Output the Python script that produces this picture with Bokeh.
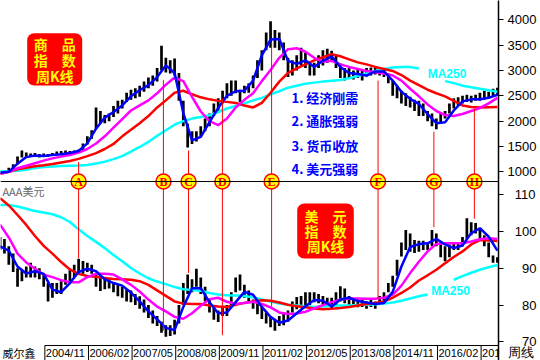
import math
from bokeh.plotting import figure
from bokeh.models import Range1d, FixedTicker, Span, Label, BoxAnnotation
from bokeh.embed import file_html
from bokeh.resources import INLINE
from bokeh.core.properties import value

NaN = float("nan")

# ---------------- data ----------------
START = 2003.55          # first sample (decimal year)
BAR_STEP = 0.125         # price samples every 1.5 months
MA_STEP = 0.25           # moving-average samples every quarter

# Commodity index (weekly K-line), high / low envelope
cmd_high = [1020, 1030, 1080, 1150, 1300, 1420, 1380, 1360, 1370, 1350,
            1360, 1350, 1370, 1400, 1410, 1420, 1410, 1420, 1440, 1560,
            1700, 1820, 2270, 2200, 2120, 2150, 2300, 2400, 2420, 2560,
            2620, 2650, 2700, 2780, 2860, 2900, 3050, 3490, 3250, 3200,
            3235, 2950, 2400, 1950, 1800, 1800, 1900, 2050, 2150, 2350,
            2450, 2600, 2750, 2800, 2800, 2620, 2700, 2750, 2900, 3200,
            3400, 3750, 3970, 3800, 3750, 3550, 3250, 3200, 3300, 3450,
            3350, 3150, 3150, 3300, 3400, 3430, 3390, 3300, 3140, 3050,
            3050, 3000, 3020, 3000, 3050, 3060, 3080, 3060, 3040, 2940,
            2800, 2700, 2600, 2550, 2480, 2420, 2400, 2350, 2200, 2150,
            2050, 2150, 2200, 2350, 2450, 2470, 2500, 2520, 2500, 2520,
            2560, 2600, 2580, 2640, 2660]
cmd_low = [980, 990, 1000, 1050, 1150, 1280, 1300, 1290, 1300, 1280,
           1290, 1300, 1310, 1340, 1350, 1360, 1360, 1370, 1380, 1420,
           1540, 1650, 1850, 1950, 1960, 2000, 2080, 2150, 2250, 2380,
           2420, 2450, 2480, 2580, 2650, 2700, 2780, 3000, 2960, 2940,
           2900, 2400, 1900, 1480, 1550, 1600, 1700, 1800, 1900, 2100,
           2200, 2350, 2450, 2500, 2550, 2380, 2550, 2560, 2650, 2850,
           3000, 3400, 3450, 3450, 3400, 3200, 2870, 2900, 3000, 3100,
           3050, 2900, 2900, 3050, 3100, 3150, 3180, 3050, 2850, 2800,
           2850, 2820, 2850, 2800, 2880, 2900, 2920, 2900, 2870, 2750,
           2500, 2450, 2350, 2300, 2270, 2200, 2100, 2100, 2000, 1900,
           1840, 1950, 2050, 2150, 2250, 2300, 2350, 2380, 2370, 2400,
           2400, 2420, 2440, 2480, 2500]
cmd_ma_blue = [980, 1000, 1160, 1290, 1320, 1310, 1330, 1345, 1370, 1410,
               1560, 1850, 2070, 2180, 2310, 2490, 2610, 2710, 2870, 3100,
               2950, 2160, 1620, 1690, 1980, 2260, 2500, 2590, 2600, 2800,
               3300, 3610, 3620, 3190, 3130, 3200, 3070, 3190, 3280, 3070,
               2950, 2930, 2900, 2980, 2980, 2800, 2580, 2440, 2340, 2140,
               1960, 1980, 2210, 2390, 2430, 2430, 2460, 2520]
cmd_ma_magenta = [960, 1000, 1070, 1120, 1170, 1220, 1265, 1300, 1330, 1380,
                  1450, 1560, 1700, 1870, 2040, 2210, 2310, 2410, 2550, 2720,
                  2860, 2790, 2480, 2190, 2000, 1920, 2050, 2270, 2420, 2550,
                  2790, 3010, 3250, 3420, 3440, 3370, 3250, 3170, 3190, 3120,
                  3070, 3030, 2990, 2965, 2940, 2900, 2800, 2640, 2490, 2330,
                  2200, 2120, 2100, 2140, 2200, 2260, 2350, 2460]
cmd_ma_red = [960, 1000, 1050, 1080, 1110, 1130, 1155, 1185, 1215, 1255,
              1310, 1370, 1450, 1550, 1700, 1830, 1960, 2100, 2270, 2410,
              2560, 2600, 2530, 2470, 2430, 2400, 2380, 2360, 2310, 2270,
              2360, 2560, 2780, 2950, 3040, 3120, 3200, 3260, 3320, 3280,
              3220, 3160, 3120, 3070, 3030, 2990, 2910, 2800, 2710, 2620,
              2550, 2490, 2400, 2310, 2280, 2270, 2275, 2280]
cmd_ma250 = [1010, 1010, 1020, 1040, 1075, 1095, 1105, 1115, 1120, 1125,
             1135, 1165, 1200, 1250, 1310, 1400, 1490, 1590, 1710, 1820,
             1930, 2000, 2050, 2080, 2115, 2180, 2250, 2300, 2350, 2410,
             2460, 2530, 2590, 2660, 2700, 2740, 2760, 2780, 2795, 2810,
             2845, 2890, 2940, 2990, 3030, 3060, 3070, 3070, 3040, NaN,
             NaN, 2790, 2750, 2700, 2670, 2640, 2610, 2580]

# US dollar index (weekly K-line)
usd_high = [98.5, 98, 96, 94, 90, 89.5, 90.5, 91.5, 90.5, 90,
            88.5, 86, 86, 86, 86.5, 88.5, 89.5, 91, 92.6, 92,
            91.5, 91, 88.5, 87.5, 87, 87, 86, 85.6, 85, 84.3,
            84, 83, 82.4, 81.5, 80, 78.5, 77, 75.5, 74.5, 74.5,
            76, 80, 86, 88.3, 87, 89.9, 87.5, 85, 81.5, 79.7,
            78.5, 79.7, 80, 83.5, 87.5, 88.3, 85.5, 84, 81.5, 80.8,
            79.5, 78, 77, 76, 77, 78, 78.5, 81, 82.2, 82.5,
            83.5, 83.5, 83.5, 83, 82.5, 82, 82, 83.5, 85.1, 84.5,
            82.5, 81.6, 81.6, 81.5, 81, 81.6, 81, 82.5, 83.5, 86,
            88, 92.3, 97, 100.4, 99.5, 97.7, 97.5, 97.5, 97, 100.4,
            99.5, 97, 96, 96.5, 96.8, 97, 98.5, 103.6, 102.5, 102.3,
            101, 99, 97, 93.5, 93]
usd_low = [95, 94, 91, 89, 85, 86.5, 87.5, 87.5, 87.5, 87,
           85, 81, 82, 83, 83, 85.5, 86, 87.5, 88.5, 88.5,
           89, 88.5, 85, 83.8, 84.3, 84.5, 83.5, 82.4, 82, 81,
           80.8, 80, 79, 78, 76.5, 75, 74.3, 72.5, 71.4, 71.6,
           72, 75, 80, 83, 83.5, 85, 83, 81, 78, 76,
           75.4, 77, 77, 79.5, 83.5, 84, 82, 80.8, 79, 77.5,
           76.2, 75, 74, 73, 74.3, 74.5, 75.5, 78, 78.9, 79.5,
           80, 80, 80.8, 80.5, 80, 79.5, 79, 80, 81, 80.5,
           79.7, 79.5, 79.4, 79.5, 79, 79.5, 79, 80, 81, 83.5,
           85, 88, 93.2, 95, 94.5, 94.2, 94.5, 95, 95, 96,
           96, 93, 91.9, 93, 95, 95, 96, 98, 99, 99.5,
           97.5, 96, 93, 91.5, 91.5]
usd_ma_blue = [96.0, 94.8, 90.5, 88.6, 89.2, 88.5, 84.2, 83.5, 86.0, 89.0,
               89.9, 89.2, 87.0, 86.0, 85.3, 83.4, 81.0, 78.3, 76.1, 73.8,
               73.2, 79.5, 84.6, 84.6, 80.8, 77.8, 78.0, 80.8, 83.6, 82.8,
               79.5, 76.8, 75.2, 75.8, 77.8, 79.7, 81.4, 81.2, 79.6, 81.5,
               82.0, 81.1, 80.7, 80.3, 80.6, 83.6, 90.5, 95.8, 96.6, 96.8,
               98.0, 96.5, 95.5, 96.2, 99.6, 100.9, 98.6, 94.8]
usd_ma_magenta = [101.9, 98.4, 94.0, 91.6, 89.9, 88.3, 87.6, 86.8, 86.2, 86.2,
                  87.6, 88.5, 88.5, 88.3, 87.0, 85.5, 83.7, 81.5, 79.6, 78.3,
                  76.8, 76.3, 77.8, 79.8, 81.6, 82.0, 80.9, 80.3, 80.6, 80.9,
                  80.3, 79.4, 78.0, 77.6, 77.7, 78.2, 79.1, 80.0, 80.8, 81.5,
                  81.8, 81.8, 81.7, 81.7, 82.0, 82.8, 85.3, 88.7, 91.8, 94.6,
                  96.6, 96.8, 96.8, 96.8, 97.3, 97.9, 98.2, 98.0]
usd_ma_red = [109.1, 107.1, 104.5, 101.8, 98.8, 96.1, 94.0, 91.7, 89.7, 88.5,
              87.9, 87.7, 87.4, 87.1, 87.0, 86.9, 86.5, 85.5, 84.0, 82.5,
              81.0, 80.4, 80.3, 80.3, 79.9, 79.6, 79.5, 80.1, 80.6, 81.0,
              81.3, 81.2, 80.7, 80.1, 79.7, 79.4, 79.1, 78.9, 79.0, 79.2,
              79.5, 79.9, 80.3, 80.6, 81.0, 82.0, 83.3, 84.8, 86.7, 88.1,
              89.6, 91.4, 93.1, 94.6, 96.5, 97.7, 97.6, 97.4]
usd_ma250 = [107.2, 107.2, 106.8, 106.2, 105.6, 105.2, 104.7, 103.9, 102.6, 100.6,
             98.8, 97.2, 95.5, 93.6, 91.9, 90.1, 88.6, 87.3, 86.4, 85.7,
             84.9, 84.3, 84.1, 83.9, 83.3, 82.9, 82.7, 82.6, 82.5, 82.1,
             81.5, 81.0, 80.4, 80.1, 79.9, 79.7, 79.5, 79.6, 79.8, 79.9,
             79.9, 80.0, 80.1, 80.2, 80.4, 80.7, 81.2, 81.8, 82.4, 82.9,
             NaN, NaN, 86.9, 87.9, 88.8, 89.6, 90.3, 90.9]

date_ticks = [2004.833, 2006.083, 2007.333, 2008.583, 2009.833, 2011.083,
              2012.333, 2013.583, 2014.833, 2016.083, 2017.333]
date_labels = ["2004/11", "2006/02", "2007/05", "2008/08", "2009/11", "2011/02",
               "2012/05", "2013/08", "2014/11", "2016/02", "2017/05"]

event_names = ["A", "B", "C", "D", "E", "F", "G", "H"]
event_dates = [2005.80, 2008.23, 2008.95, 2009.92, 2011.33, 2014.38, 2015.98, 2017.14]
event_cmd = [1190, 2810, 1420, 2450, 3555, 2800, 1790, 2245]
event_usd = [92.8, 73.1, 88.7, 71.8, 79.6, 81.7, 101.2, 103.5]

cmd_ticks = [1000, 1500, 2000, 2500, 3000, 3500, 4000]
usd_ticks = [70, 80, 90, 100, 110]

themes = ["1. 经济刚需", "2. 通胀强弱", "3. 货币收放", "4. 美元强弱"]

# ---------------- layout constants ----------------
FRAME_W, FRAME_H = 498, 360      # plot area incl. the date row
PANEL_BOTTOM = 345               # bottom of the dollar panel (px)
AXIS_W = 42
PX_PER_YEAR = 34.9
X_LEFT = 2003.562
X_RIGHT = X_LEFT + FRAME_W / PX_PER_YEAR
CMD_TOP = 4381.0                 # commodity value at the top edge
CMD_PER_PX = 19.737
USD_REF, USD_REF_PX = 110.0, 194.3
USD_PER_PX = 0.272
SEP_PX = 181
CMD_BOTTOM = CMD_TOP - FRAME_H * CMD_PER_PX
USD_TOP = USD_REF + USD_REF_PX * USD_PER_PX
USD_BOTTOM = USD_TOP - FRAME_H * USD_PER_PX
SEP_CMD = CMD_TOP - SEP_PX * CMD_PER_PX
SEP_USD = USD_TOP - SEP_PX * USD_PER_PX


def xp(px):
    return X_LEFT + px / PX_PER_YEAR


def yp(py):
    return CMD_TOP - py * CMD_PER_PX


def usd_to_cmd(u):
    return CMD_TOP - (USD_TOP - u) / USD_PER_PX * CMD_PER_PX


CJK = "Noto Sans CJK SC"
RED, YELLOW, BLUE, MAGENTA, CYAN = "#FF0000", "#FFFF00", "#0000FF", "#FF00FF", "#00FFFF"

# ---------------- figure ----------------
p = figure(frame_width=FRAME_W, frame_height=FRAME_H,
           x_range=Range1d(X_LEFT, X_RIGHT), y_range=Range1d(CMD_BOTTOM, CMD_TOP),
           output_backend="svg", toolbar_location=None,
           x_axis_location=None, y_axis_location="right",
           min_border_left=0, min_border_top=0, min_border_bottom=0,
           min_border_right=AXIS_W,
           background_fill_color="white", border_fill_color="white")
p.outline_line_color = None
p.grid.visible = False
p.extra_y_ranges = {"usd": Range1d(USD_BOTTOM, USD_TOP)}

# shared right axis: commodity ticks (top), dollar ticks (bottom), row name (date row)
ax = p.yaxis[0]
tick_pos = list(cmd_ticks)
overrides = {t: str(t) for t in cmd_ticks}
for u in usd_ticks:
    pos = int(round(usd_to_cmd(u)))
    tick_pos.append(pos)
    overrides[pos] = "\u2007" * (4 - len(str(u))) + str(u)
row_pos = int(round(yp(352.5)))
overrides[row_pos] = "周线"
ax.ticker = FixedTicker(ticks=tick_pos + [row_pos], minor_ticks=tick_pos)
ax.major_label_overrides = overrides
ax.axis_line_color = "black"
ax.axis_line_width = 1.5
ax.major_tick_in = 0
ax.major_tick_out = 5
ax.major_tick_line_color = None
ax.minor_tick_in = 0
ax.minor_tick_out = 5
ax.minor_tick_line_color = "black"
ax.minor_tick_line_width = 1
ax.major_label_standoff = 4
ax.major_label_text_font = "Liberation Sans"
ax.major_label_text_font_size = "13px"
ax.major_label_text_color = "black"

x_bar = [START + i * BAR_STEP for i in range(len(cmd_high))]
x_ma = [START + i * MA_STEP for i in range(len(cmd_ma_blue))]

# price envelopes
p.vbar(x=x_bar, bottom=cmd_low, top=cmd_high, width=BAR_STEP * 0.62,
       fill_color="black", line_color=None)
p.vbar(x=x_bar, bottom=usd_low, top=usd_high, width=BAR_STEP * 0.62,
       fill_color="black", line_color=None, y_range_name="usd")

# moving averages
for ys, col in [(cmd_ma250, CYAN), (cmd_ma_red, RED), (cmd_ma_magenta, MAGENTA), (cmd_ma_blue, BLUE)]:
    p.line(x_ma, ys, line_color=col, line_width=2.5)
for ys, col in [(usd_ma250, CYAN), (usd_ma_red, RED), (usd_ma_magenta, MAGENTA), (usd_ma_blue, BLUE)]:
    p.line(x_ma, ys, line_color=col, line_width=2.5, y_range_name="usd")

# separator between the panels, continued through the axis column
p.add_layout(Span(location=SEP_CMD, dimension="width", line_color="black", line_width=1.2))
p.add_layout(BoxAnnotation(left=X_RIGHT, right=xp(FRAME_W + AXIS_W), top=yp(SEP_PX - 1),
                           bottom=yp(SEP_PX + 1.5), fill_color="black", fill_alpha=1,
                           line_color=None))

# event markers
n_ev = len(event_dates)
p.segment(x0=event_dates, y0=event_cmd, x1=event_dates, y1=[SEP_CMD] * n_ev,
          line_color=RED, line_width=1)
p.segment(x0=event_dates, y0=[SEP_USD] * n_ev, x1=event_dates, y1=event_usd,
          line_color=RED, line_width=1, y_range_name="usd")
p.scatter(x=event_dates, y=[SEP_CMD] * n_ev, size=15, marker="circle",
          fill_color=YELLOW, line_color=RED, line_width=1.5)
p.text(x=event_dates, y=[SEP_CMD] * n_ev, text=event_names, text_align="center",
       text_baseline="middle", text_color=RED, text_font=value("Liberation Serif"),
       text_font_size="12px", text_font_style="bold")


def red_box(l, r, t, b):
    kw = dict(left=xp(l), right=xp(r), top=yp(t), bottom=yp(b),
              fill_color=RED, fill_alpha=1, line_color=None)
    try:
        return BoxAnnotation(border_radius=7, **kw)
    except Exception:
        return BoxAnnotation(**kw)


def lab(text, px, py, color, size, align="center", font=CJK, style="bold"):
    return Label(x=xp(px), y=yp(py), text=text, text_align=align, text_baseline="middle",
                 text_color=color, text_font=font, text_font_size=size, text_font_style=style)


# title boxes
p.add_layout(red_box(26.7, 81.7, 32.7, 85))
for t, py in [("商　品", 43.5), ("指　数", 59.5), ("周K线", 75)]:
    p.add_layout(lab(t, 54.2, py, YELLOW, "14px"))
p.add_layout(red_box(296.7, 353.3, 203, 258))
for t, py in [("美　元", 215.5), ("指　数", 230.5), ("周K线", 245)]:
    p.add_layout(lab(t, 325, py, YELLOW, "14px"))

# theme list
for t, py in zip(themes, [96.7, 120.3, 144.7, 168.3]):
    p.add_layout(lab(t, 291, py, BLUE, "13px", align="left"))

# MA250 tags
p.add_layout(lab("MA250", 446.5, 73, CYAN, "12px", font="Liberation Sans"))
p.add_layout(lab("MA250", 450, 290, CYAN, "12px", font="Liberation Sans"))

# lower panel name
p.add_layout(lab("AAA美元", 2, 190, "#666666", "11px", align="left", style="normal"))

# ---------------- date row (bottom of the plot area) ----------------
n_t = len(date_ticks)
row_top, row_bottom, row_mid = yp(PANEL_BOTTOM), yp(FRAME_H), yp(352.5)
p.segment(x0=date_ticks, y0=[row_top] * n_t, x1=date_ticks, y1=[row_bottom] * n_t,
          line_color="black", line_width=1)
p.add_layout(BoxAnnotation(left=date_ticks[0], right=xp(FRAME_W + AXIS_W),
                           top=yp(PANEL_BOTTOM - 0.5), bottom=yp(PANEL_BOTTOM + 0.5),
                           fill_color="black", fill_alpha=1, line_color=None))
shown = list(date_labels[:-1]) + [date_labels[-1][:3]]   # last one is cut by the axis
p.text(x=date_ticks, y=[row_mid] * n_t, text=shown, x_offset=1,
       text_align="left", text_baseline="middle", text_font=value("Liberation Sans"),
       text_font_size="11px", text_color="black")
p.text(x=[xp(2)], y=[yp(352)], text=["威尔鑫"], text_align="left", text_baseline="middle",
       text_font=value(CJK), text_font_size="11px", text_color="black")

open("out.html", "w").write(file_html(p, INLINE))
